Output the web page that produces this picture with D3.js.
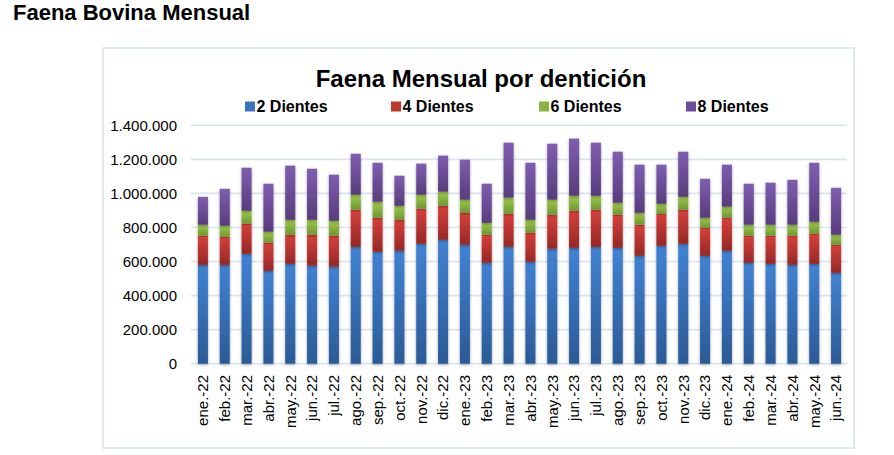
<!DOCTYPE html>
<html>
<head>
<meta charset="utf-8">
<script src="https://cdn.jsdelivr.net/npm/d3@7"></script>
<style>
  html, body { margin: 0; padding: 0; background: #fff; }
  svg { display: block; }
</style>
</head>
<body>
<svg id="chart" width="894" height="455"></svg>
<script>
const months = ["ene.-22","feb.-22","mar.-22","abr.-22","may.-22","jun.-22","jul.-22","ago.-22","sep.-22","oct.-22","nov.-22","dic.-22",
  "ene.-23","feb.-23","mar.-23","abr.-23","may.-23","jun.-23","jul.-23","ago.-23","sep.-23","oct.-23","nov.-23","dic.-23",
  "ene.-24","feb.-24","mar.-24","abr.-24","may.-24","jun.-24"];
const dientes2 = [580000,580000,645000,545000,586000,575000,569000,686000,657000,663000,704000,727000,
  698000,592000,686000,598000,675000,680000,686000,680000,633000,692000,704000,633000,
  663000,592000,586000,580000,586000,533000];
const dientes4 = [171000,165000,177000,165000,171000,182000,182000,218000,200000,182000,206000,200000,
  188000,165000,194000,171000,200000,218000,218000,195000,183000,188000,200000,165000,
  194000,159000,165000,171000,177000,165000];
const dientes6 = [65000,65000,76000,65000,88000,88000,88000,88000,94000,82000,82000,83000,
  77000,70000,95000,76000,88000,88000,82000,70000,70000,59000,76000,59000,
  65000,65000,65000,65000,70000,59000];
const dientes8 = [164000,217000,253000,282000,318000,300000,271000,241000,229000,177000,183000,212000,
  235000,230000,323000,335000,329000,336000,312000,300000,283000,230000,265000,229000,
  247000,241000,247000,264000,347000,276000];
const seriesNames = ["2 Dientes","4 Dientes","6 Dientes","8 Dientes"];
const yTicks = [0,200000,400000,600000,800000,1000000,1200000,1400000];

const colors = [
  {top:"#4182D3", bottom:"#2B5A95", legend:"#3A73BE"},
  {top:"#D6403B", bottom:"#952826", legend:"#C0392F"},
  {top:"#9DCA4B", bottom:"#6F9631", legend:"#8AB43F"},
  {top:"#805DB0", bottom:"#583C7C", legend:"#6E4E9A"}
];

const rows = months.map((m,i)=>({month:m, s0:dientes2[i], s1:dientes4[i], s2:dientes6[i], s3:dientes8[i]}));
const stack = d3.stack().keys(["s0","s1","s2","s3"])(rows);

const svg = d3.select("#chart");
const defs = svg.append("defs");
colors.forEach((c,i)=>{
  const g = defs.append("linearGradient").attr("id","grad"+i)
    .attr("x1",0).attr("y1",0).attr("x2",0).attr("y2",1);
  g.append("stop").attr("offset","0%").attr("stop-color",c.top);
  g.append("stop").attr("offset","100%").attr("stop-color",c.bottom);
});
const f = defs.append("filter").attr("id","shadow").attr("x","-50%").attr("y","-10%").attr("width","200%").attr("height","120%");
f.append("feDropShadow").attr("dx",0).attr("dy",1).attr("stdDeviation",1.6).attr("flood-color","#000").attr("flood-opacity",0.35);

// page title
svg.append("text").attr("x",13).attr("y",20)
  .attr("font-family","Arial, 'Liberation Sans', sans-serif").attr("font-weight","bold").attr("font-size",22)
  .attr("fill","#000").text("Faena Bovina Mensual");

// chart box
svg.append("rect").attr("x",103).attr("y",48).attr("width",751).attr("height",400)
  .attr("fill","#fff").attr("stroke","#D5E1EF").attr("stroke-width",1.5);

// chart title
svg.append("text").attr("x",481).attr("y",87).attr("text-anchor","middle")
  .attr("font-family","Arial, 'Liberation Sans', sans-serif").attr("font-weight","bold").attr("font-size",24)
  .attr("fill","#000").text("Faena Mensual por dentición");

// legend
const legendX = [245,391,539,686];
seriesNames.forEach((n,i)=>{
  svg.append("rect").attr("x",legendX[i]).attr("y",101.5).attr("width",10).attr("height",10).attr("fill",colors[i].legend);
  svg.append("text").attr("x",legendX[i]+11.5).attr("y",111.5)
    .attr("font-family","Arial, 'Liberation Sans', sans-serif").attr("font-weight","bold").attr("font-size",16)
    .attr("fill","#000").text(n);
});

const x = d3.scaleBand().domain(months).range([192,847]).paddingInner(0.54).paddingOuter(0.27);
const y = d3.scaleLinear().domain([0,1400000]).range([363.7,125.3]);

// gridlines
svg.append("g").selectAll("line").data(yTicks).join("line")
  .attr("x1",191).attr("x2",847).attr("y1",d=>y(d)).attr("y2",d=>y(d))
  .attr("stroke","#D9E4F2").attr("stroke-width",1.6);

// y axis
const yAxis = d3.axisLeft(y).tickValues(yTicks).tickSize(0).tickPadding(0)
  .tickFormat(d=>d3.format(",")(d).replace(/,/g,"."));
const gy = svg.append("g").attr("transform","translate(177,0)").call(yAxis);
gy.select(".domain").remove();
gy.selectAll("text").attr("font-family","Arial, 'Liberation Sans', sans-serif").attr("font-size",15).attr("fill","#000").attr("dy","0.35em");

// bars
const layers = svg.append("g").selectAll("g").data(stack).join("g")
  .attr("fill",(d,i)=>`url(#grad${i})`);
layers.selectAll("rect").data(d=>d).join("rect")
  .attr("x",d=>x(d.data.month)).attr("width",x.bandwidth())
  .attr("y",d=>y(d[1])).attr("height",d=>y(d[0])-y(d[1]))
  .attr("filter","url(#shadow)");

// x axis
const xAxis = d3.axisBottom(x).tickSize(0).tickPadding(0);
const gx = svg.append("g").attr("transform","translate(0,375)").call(xAxis);
gx.select(".domain").remove();
gx.selectAll("text")
  .attr("font-family","Arial, 'Liberation Sans', sans-serif").attr("font-size",15).attr("fill","#000")
  .attr("transform","rotate(-90)").attr("text-anchor","end")
  .attr("x",0).attr("y",0).attr("dy","0.36em");
</script>
</body>
</html>
